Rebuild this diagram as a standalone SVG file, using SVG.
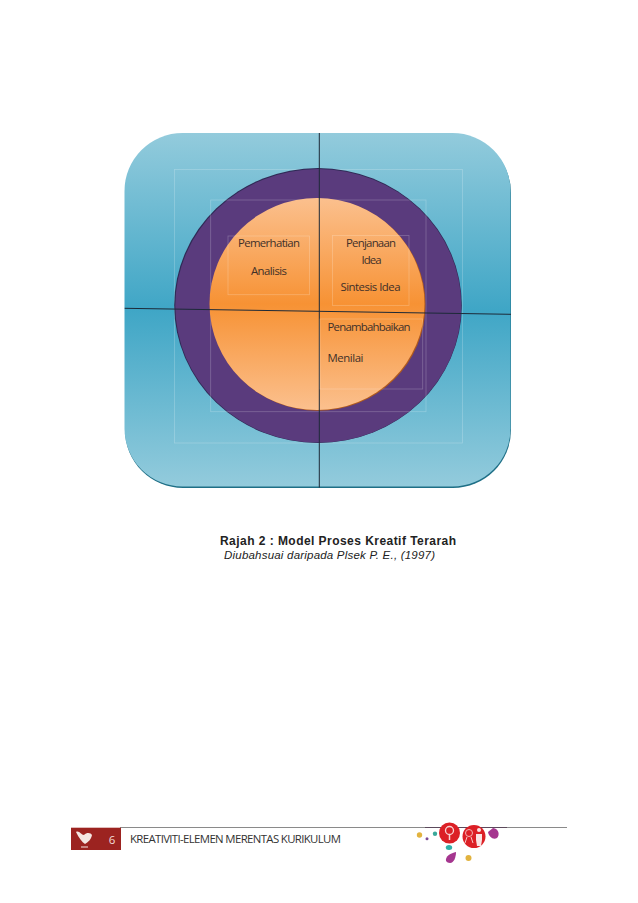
<svg xmlns="http://www.w3.org/2000/svg" width="638" height="903" viewBox="0 0 638 903">
<style>
.t{font-family:"Open Sans","Noto Sans",sans-serif;font-size:11.4px;fill:#3f3028}
.c{text-anchor:middle}
.box{fill:none;stroke:#fff;stroke-opacity:.24;stroke-width:.8}
.ax{stroke:#1d2a38;stroke-width:1;fill:none}
.cap{font-family:"Liberation Sans",Arial,sans-serif;fill:#222}
.foot{font-family:"Open Sans","Noto Sans",sans-serif;font-size:11.4px;fill:#333}
</style>
<defs>
<linearGradient id="blue" x1="0" y1="0" x2="0" y2="1">
<stop offset="0" stop-color="#93cbdc"/><stop offset=".5" stop-color="#3fa6c6"/><stop offset="1" stop-color="#93cbdc"/>
</linearGradient>
<linearGradient id="orange" x1="0" y1="0" x2="0" y2="1">
<stop offset="0" stop-color="#fbc08e"/><stop offset=".5" stop-color="#f79234"/><stop offset="1" stop-color="#fbc08e"/>
</linearGradient>
</defs>
<rect width="638" height="903" fill="#fff"/>
<g id="outer-square">
<rect x="125" y="135" width="386" height="353" rx="58" fill="#1e6f86"/>
<rect x="124.500" y="133" width="386" height="353.500" rx="58" fill="url(#blue)"/>
<rect x="174.500" y="169.500" width="288" height="273.500" class="box" stroke-opacity=".4"/>
</g>
<g id="middle-circle">
<ellipse cx="318" cy="305.500" rx="143.800" ry="137.500" fill="#2f2a55"/>
<ellipse cx="318.300" cy="305.800" rx="143" ry="136.800" fill="#5a3b7d"/>
<rect x="210.700" y="200" width="215.300" height="211.700" class="box"/>
</g>
<g id="inner-circle">
<ellipse cx="318" cy="304.800" rx="107.500" ry="106" fill="#b05a1c"/>
<ellipse cx="317" cy="304" rx="107.500" ry="106" fill="url(#orange)"/>
</g>
<g id="connectors">
<path class="ax" d="M124.700 308.300L511 314.300"/>
<path class="ax" d="M319.300 133V487.500"/>
</g>
<g id="quadrant-1">
<rect x="228" y="236" width="81.500" height="58.700" class="box"/>
<text class="t c" x="269" y="247" textLength="62">Pemerhatian</text>
<text class="t c" x="269" y="275" textLength="36">Analisis</text>
</g>
<g id="quadrant-2">
<rect x="332.500" y="235.500" width="76.500" height="70" class="box"/>
<text class="t c" x="371" y="247" textLength="50">Penjanaan</text>
<text class="t c" x="371.500" y="264" textLength="20">Idea</text>
<text class="t c" x="370.500" y="291" textLength="60">Sintesis Idea</text>
</g>
<g id="quadrant-3">
<rect x="320" y="319" width="102.700" height="70" class="box"/>
<text class="t" x="327.500" y="331" textLength="83">Penambahbaikan</text>
<text class="t" x="327.500" y="362" textLength="36">Menilai</text>
</g>
<g id="caption">
<text class="cap" x="220" y="545" font-size="12" font-weight="700" textLength="236">Rajah 2 : Model Proses Kreatif Terarah</text>
<text class="cap" x="224" y="558.500" font-size="11.500" font-style="italic" textLength="211">Diubahsuai daripada Plsek P. E., (1997)</text>
</g>
<g id="footer">
<path d="M120 827.500H567" stroke="#8a8a8a" stroke-width="1"/>
<rect x="71" y="827.700" width="50" height="22.300" fill="#9c2320"/>
<path d="M76 832C79 830 81 835 84 835C87 832 91 833 92 835C91 840 88 842 85 844C82 842 79 838 76 832Z" fill="#f4e6e2"/>
<path d="M81 847H88" stroke="#f4e6e2" stroke-width="1"/>
<text x="112" y="843.500" font-family="'Open Sans','Noto Sans',sans-serif" font-size="11.500" fill="#f3dcd8" text-anchor="middle">6</text>
<text class="foot" x="130" y="843" textLength="211">KREATIVITI-ELEMEN MERENTAS KURIKULUM</text>
</g>
<g id="footer-art">
<path d="M425 827.500H507" stroke="#5c4a5c" stroke-width="1.200"/>
<path d="M493 828C499 829 500 835 497 838C493 840 489 837 488 832Z" fill="#a5368f"/>
<path d="M446 861C445 856 451 853 456 852C456 857 454 863 450 863C448 863 447 862 446 861Z" fill="#a5368f"/>
<circle cx="419.500" cy="835" r="2.700" fill="#e2b33f"/>
<circle cx="468.500" cy="858" r="3" fill="#e2b33f"/>
<circle cx="427" cy="838.700" r="1.500" fill="#7c4a96"/>
<circle cx="435" cy="833.700" r="2.200" fill="#3aa89a"/>
<ellipse cx="449" cy="847.500" rx="3.200" ry="2.500" fill="#2fb0a8"/>
<circle cx="449.500" cy="833" r="10.500" fill="#dc2026"/>
<circle cx="474" cy="836.500" r="11.500" fill="#dc2026"/>
<circle cx="449.500" cy="830.500" r="4" fill="none" stroke="#f8d4d4" stroke-width="1.300"/>
<path d="M449.500 834V840" stroke="#f8d4d4" stroke-width="1.500"/>
<circle cx="469" cy="833" r="3.500" fill="none" stroke="#f4b4b4" stroke-width="1"/>
<path d="M467 837L465 843M471 837L473 843" stroke="#f4c4c4" stroke-width="1"/>
<circle cx="479" cy="830" r="2" fill="#fbe4e4"/>
<path d="M476 834H482V840L481 846H477L476 840Z" fill="#fbe4e4"/>
</g>
</svg>
